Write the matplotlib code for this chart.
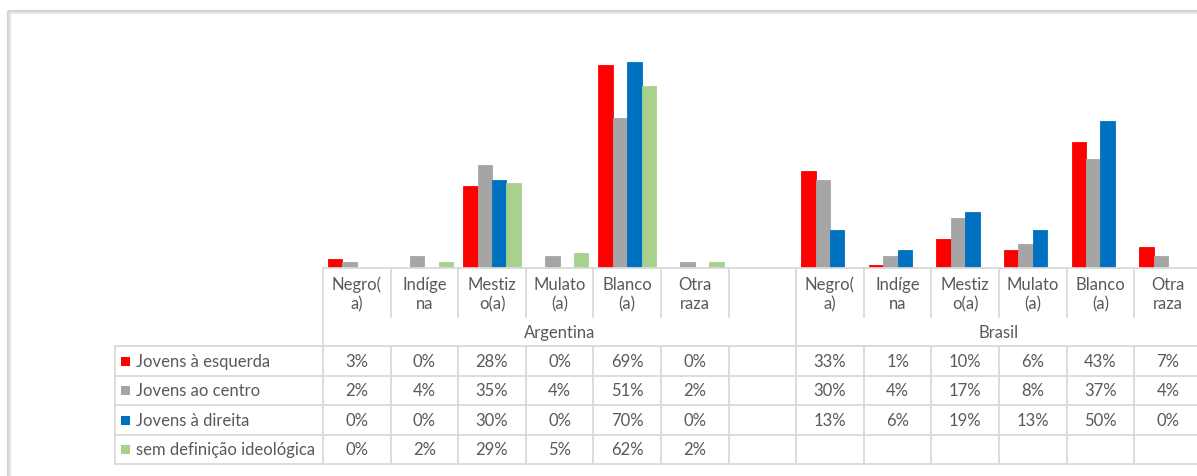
import numpy as np
import matplotlib.pyplot as plt
from matplotlib.patches import Rectangle

plt.rcParams['font.family'] = ['Lato', 'DejaVu Sans']

W, H = 1197, 477

countries = ["Argentina", "Brasil"]
arg_categories = ["Negro(\na)", "Indíge\nna", "Mestiz\no(a)", "Mulato\n(a)", "Blanco\n(a)", "Otra\nraza", ""]
bra_categories = ["Negro(\na)", "Indíge\nna", "Mestiz\no(a)", "Mulato\n(a)", "Blanco\n(a)", "Otra\nraza"]

series_names = ["Jovens à esquerda", "Jovens ao centro", "Jovens à direita", "sem definição ideológica"]
colors = ["#FF0000", "#A5A5A5", "#0070C0", "#A9D18E"]

# percentages, one list per series and country (None = no value)
arg_esquerda = [3, 0, 28, 0, 69, 0, None]
arg_centro = [2, 4, 35, 4, 51, 2, None]
arg_direita = [0, 0, 30, 0, 70, 0, None]
arg_sem_def = [0, 2, 29, 5, 62, 2, None]
bra_esquerda = [33, 1, 10, 6, 43, 7]
bra_centro = [30, 4, 17, 8, 37, 4]
bra_direita = [13, 6, 19, 13, 50, 0]
bra_sem_def = [None, None, None, None, None, None]

values = [arg_esquerda + bra_esquerda,
          arg_centro + bra_centro,
          arg_direita + bra_direita,
          arg_sem_def + bra_sem_def]
categories = arg_categories + bra_categories
n_cat = len(categories)

# layout in pixels
col_w = 67.6
plot_left = 323
base_y = 269
plot_top = 40
px_per_pct = 2.94
legend_left = 115
label_row_bottom = 318
row_lines = [347, 377, 406, 436, 465]
text_color = "#595959"
grid_color = "#D9D9D9"

fig = plt.figure(figsize=(W / 100, H / 100), dpi=100)

ax = fig.add_axes([plot_left / W, (H - base_y) / H,
                   n_cat * col_w / W, (base_y - plot_top) / H])
bar_w = 0.213
x = np.arange(n_cat) + 0.5
for j, (vals, col) in enumerate(zip(values, colors)):
    heights = [np.nan if v is None else v for v in vals]
    ax.bar(x + (j - 1.5) * bar_w, heights, width=bar_w, color=col,
           edgecolor=col, linewidth=0.6)
ax.set_xlim(0, n_cat)
ax.set_ylim(0, (base_y - plot_top) / px_per_pct)
ax.axis('off')

# data table drawn in pixel coordinates on an overlay
tab = fig.add_axes([0, 0, 1, 1], facecolor='none')
tab.set_xlim(0, W)
tab.set_ylim(H, 0)
tab.axis('off')

# chart frame
tab.add_patch(Rectangle((9, 13), W, H, fill=False, edgecolor="#E6E6E6", lw=3))
tab.add_patch(Rectangle((8, 12), W, H, fill=False, edgecolor="#D0D0D0", lw=1.2))

col_x = [plot_left + k * col_w for k in range(n_cat + 1)]
right = col_x[-1]
group_edges = [0, len(arg_categories), n_cat]

lw = 1.3
tab.plot([plot_left, right], [base_y, base_y], color=grid_color, lw=lw)
for y in row_lines:
    tab.plot([legend_left, right], [y, y], color=grid_color, lw=lw)
tab.plot([legend_left, legend_left], [row_lines[0], row_lines[-1]], color=grid_color, lw=lw)
for k, cx in enumerate(col_x):
    if k in group_edges:
        tab.plot([cx, cx], [base_y, row_lines[-1]], color=grid_color, lw=lw)
    else:
        tab.plot([cx, cx], [base_y, label_row_bottom], color=grid_color, lw=lw)
        tab.plot([cx, cx], [row_lines[0], row_lines[-1]], color=grid_color, lw=lw)

fs = 12
for k, lab in enumerate(categories):
    tab.text(col_x[k] + col_w / 2, 294.5, lab, ha='center', va='center',
             color=text_color, fontsize=fs, linespacing=1.25)
for g, name in enumerate(countries):
    cx = (col_x[group_edges[g]] + col_x[group_edges[g + 1]]) / 2
    tab.text(cx, 333, name, ha='center', va='center', color=text_color, fontsize=fs)

for r, (name, col, vals) in enumerate(zip(series_names, colors, values)):
    yc = (row_lines[r] + row_lines[r + 1]) / 2
    tab.add_patch(Rectangle((121, yc - 4.5), 9, 9, color=col, lw=0))
    tab.text(136, yc, name, ha='left', va='center', color=text_color, fontsize=fs)
    for k, v in enumerate(vals):
        if v is not None:
            tab.text(col_x[k] + col_w / 2, yc, f"{v}%", ha='center', va='center',
                     color=text_color, fontsize=fs)

fig.savefig("out.png", dpi=100)
